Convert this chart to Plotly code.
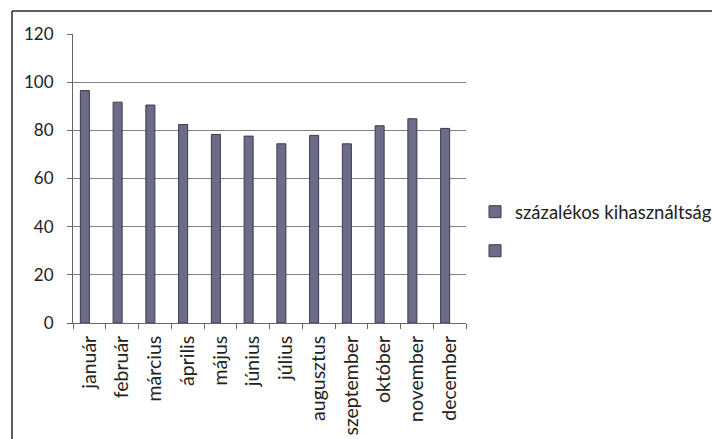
import plotly.graph_objects as go

months = ["január", "február", "március", "április", "május", "június",
          "július", "augusztus", "szeptember", "október", "november", "december"]
utilization = [96.5, 91.7, 90.5, 82.4, 78.3, 77.6, 74.4, 77.9, 74.4, 81.9, 84.8, 80.8]
empty_series = [None] * 12
series_names = ["százalékos kihasználtság", " "]
y_ticks = [0, 20, 40, 60, 80, 100, 120]

W, H = 720, 439
OFF = 8  # page body margin offset
# target plot area in screen pixels
PL, PR, PT, PB = 73, 466, 34, 322.7
ML, MT = PL - OFF, PT - OFF
MR, MB = W - (PR - OFF), H - (PB - OFF)
PW, PH = PR - PL, PB - PT

def px_x(p):
    return (p - PL) / PW

def px_y(p):
    return (PB - p) / PH

bar_color = "#6c6c88"
fam = "Lato, 'Open Sans', sans-serif"
txt = "#222222"

fig = go.Figure()
fig.add_trace(go.Bar(x=months, y=utilization, name=series_names[0],
                     marker=dict(color=bar_color, line=dict(color="#3a3a4a", width=1)),
                     legendgroup="a"))
fig.add_trace(go.Bar(x=months, y=empty_series, name=series_names[1],
                     marker=dict(color=bar_color, line=dict(color="#3a3a4a", width=1)),
                     legendgroup="b", showlegend=True))

fig.update_layout(
    width=W, height=H,
    margin=dict(l=ML, r=MR, t=MT, b=MB, autoexpand=False),
    paper_bgcolor="white", plot_bgcolor="white",
    font=dict(family=fam, size=17, color=txt),
    barmode="group", bargap=0.45, bargroupgap=0,
    legend=dict(x=px_x(475), y=px_y(193), xanchor="left", yanchor="top",
                traceorder="grouped", tracegroupgap=12,
                font=dict(family=fam, size=18.5, color=txt),
                bgcolor="rgba(0,0,0,0)"),
    xaxis=dict(type="category", tickangle=-90, showgrid=False,
               showline=True, linecolor="#666666", linewidth=1,
               ticks="outside", ticklen=5, tickcolor="#666666", tickson="boundaries",
               ticklabelstandoff=4, tickfont=dict(family=fam, size=19.5, color=txt)),
    yaxis=dict(range=[0, 120], tickvals=y_ticks, showgrid=True,
               gridcolor="#808080", gridwidth=1,
               showline=True, linecolor="#666666", linewidth=1,
               ticks="outside", ticklen=5, tickcolor="#666666",
               ticklabelstandoff=10, zeroline=False,
               tickfont=dict(family=fam, size=17, color=txt)),
    shapes=[
        dict(type="line", xref="paper", yref="paper",
             x0=px_x(12), x1=px_x(730), y0=px_y(11), y1=px_y(11),
             line=dict(color="#2a2a2a", width=1.5)),
        dict(type="line", xref="paper", yref="paper",
             x0=px_x(12), x1=px_x(12), y0=px_y(11), y1=px_y(450),
             line=dict(color="#2a2a2a", width=1.5)),
    ],
)

fig.write_html("out.html")
